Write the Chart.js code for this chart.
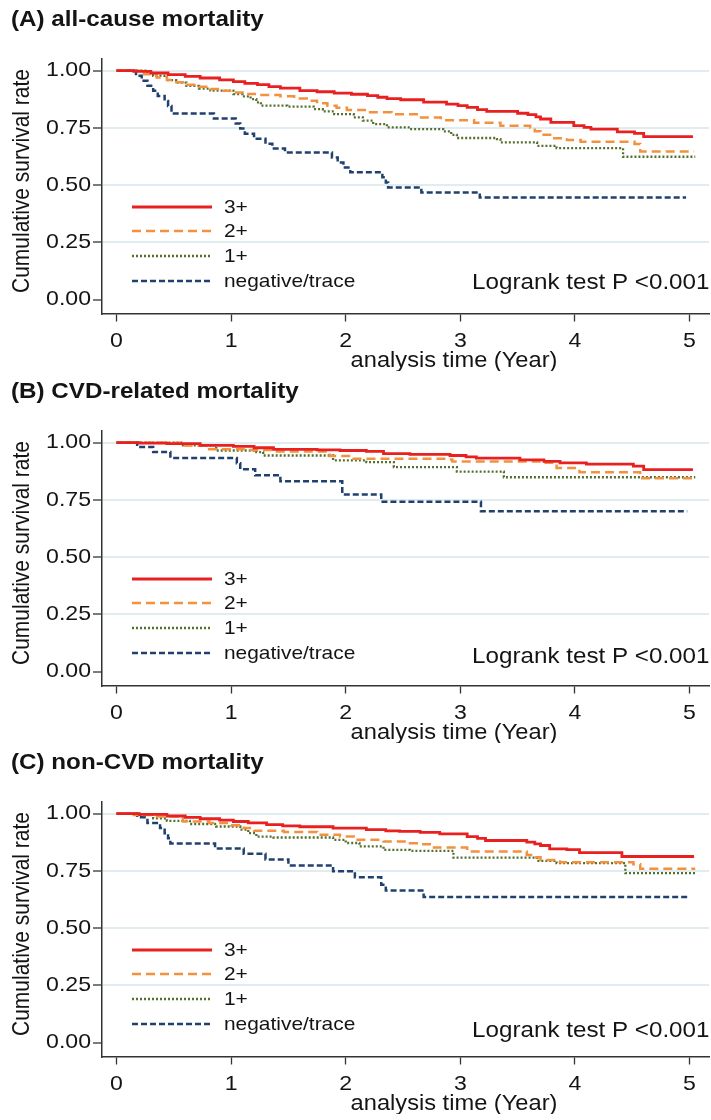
<!DOCTYPE html>
<html>
<head>
<meta charset="utf-8">
<script src="https://cdn.jsdelivr.net/npm/chart.js@4.4.1/dist/chart.umd.min.js"></script>
<style>
  body { margin: 0; background: #fff; width: 711px; height: 1120px; overflow: hidden; position: relative; }
  .panel { position: absolute; left: 0; width: 711px; height: 371px; }
</style>
</head>
<body>
<div class="panel" style="top:0px"><canvas id="chartA" width="711" height="371"></canvas></div>
<div class="panel" style="top:372px"><canvas id="chartB" width="711" height="371"></canvas></div>
<div class="panel" style="top:743px"><canvas id="chartC" width="711" height="371"></canvas></div>
<script>
// groups and axis labels
const groups = ["3+", "2+", "1+", "negative/trace"];
const xTicks = [0, 1, 2, 3, 4, 5];
const yTicks = [0, 0.25, 0.5, 0.75, 1];
const panelTitles = ["(A) all-cause mortality", "(B) CVD-related mortality", "(C) non-CVD mortality"];
const xTitle = "analysis time (Year)";
const yTitle = "Cumulative survival rate";
const logrankText = "Logrank test P <0.001";

// Kaplan-Meier steps: [time (years), survival]
const allCause3 = [[0,1],[0.15,0.997],[0.3,0.99],[0.45,0.983],[0.6,0.975],[0.73,0.968],[0.9,0.96],[1.02,0.952],[1.12,0.945],[1.23,0.939],[1.33,0.93],[1.43,0.924],[1.6,0.913],[1.75,0.908],[1.9,0.902],[2.05,0.897],[2.19,0.891],[2.28,0.884],[2.36,0.878],[2.48,0.873],[2.68,0.863],[2.88,0.854],[2.98,0.847],[3.06,0.84],[3.15,0.83],[3.23,0.822],[3.5,0.814],[3.59,0.808],[3.66,0.798],[3.7,0.789],[3.79,0.774],[3.99,0.76],[4.08,0.752],[4.14,0.745],[4.37,0.733],[4.52,0.726],[4.6,0.712],[5.03,0.712]];
const allCause2 = [[0,1],[0.15,1],[0.2,0.992],[0.24,0.985],[0.35,0.97],[0.44,0.959],[0.52,0.95],[0.61,0.939],[0.72,0.93],[0.82,0.92],[0.92,0.912],[1.02,0.905],[1.12,0.898],[1.23,0.894],[1.43,0.888],[1.55,0.878],[1.66,0.869],[1.75,0.858],[1.84,0.847],[1.92,0.838],[2.01,0.828],[2.19,0.818],[2.4,0.81],[2.62,0.796],[2.83,0.784],[3.12,0.773],[3.35,0.76],[3.61,0.752],[3.65,0.735],[3.7,0.72],[3.8,0.705],[3.93,0.697],[4.05,0.69],[4.52,0.68],[4.57,0.647],[5.04,0.647]];
const allCause1 = [[0,1],[0.2,1],[0.25,0.99],[0.32,0.978],[0.44,0.959],[0.52,0.948],[0.61,0.934],[0.72,0.922],[0.82,0.913],[1.02,0.898],[1.1,0.888],[1.17,0.876],[1.22,0.862],[1.26,0.847],[1.49,0.843],[1.72,0.832],[1.8,0.822],[1.9,0.81],[2.07,0.796],[2.15,0.782],[2.24,0.767],[2.36,0.752],[2.56,0.745],[2.85,0.735],[2.92,0.72],[2.97,0.706],[3.32,0.701],[3.35,0.687],[3.64,0.687],[3.67,0.672],[3.84,0.662],[4.41,0.662],[4.42,0.624],[5.05,0.624]];
const allCauseNeg = [[0,1],[0.17,0.978],[0.22,0.956],[0.27,0.934],[0.32,0.912],[0.36,0.89],[0.42,0.868],[0.45,0.846],[0.48,0.813],[0.85,0.791],[1.04,0.769],[1.08,0.747],[1.12,0.725],[1.2,0.703],[1.3,0.681],[1.36,0.66],[1.47,0.643],[1.88,0.621],[1.93,0.599],[1.98,0.577],[2.04,0.556],[2.32,0.534],[2.35,0.512],[2.37,0.49],[2.66,0.468],[3.17,0.446],[4.97,0.446]];

const cvd3 = [[0,1],[0.2,0.998],[0.44,0.996],[0.73,0.988],[1.02,0.984],[1.2,0.978],[1.37,0.971],[1.75,0.969],[1.95,0.966],[2.18,0.962],[2.33,0.952],[2.56,0.949],[2.91,0.944],[3.05,0.938],[3.14,0.933],[3.52,0.925],[3.73,0.918],[3.87,0.912],[4.1,0.906],[4.51,0.898],[4.6,0.882],[5.03,0.882]];
const cvd2 = [[0,1],[0.3,1],[0.58,0.988],[0.79,0.971],[1.14,0.968],[1.4,0.962],[1.86,0.942],[2.07,0.93],[2.9,0.927],[2.93,0.918],[3.6,0.918],[3.72,0.912],[3.84,0.889],[4.04,0.871],[4.52,0.871],[4.57,0.845],[5.04,0.845]];
const cvd1 = [[0,1],[0.42,1],[0.58,0.988],[0.87,0.966],[1.22,0.959],[1.28,0.944],[1.71,0.944],[1.89,0.923],[2.18,0.915],[2.42,0.893],[2.97,0.874],[3.38,0.849],[5.05,0.849]];
const cvdNeg = [[0,1],[0.18,0.981],[0.32,0.959],[0.47,0.933],[1.05,0.91],[1.08,0.884],[1.21,0.858],[1.43,0.832],[1.97,0.774],[2.31,0.742],[3.18,0.70],[4.98,0.70]];

const nonCvd3 = [[0,1],[0.2,0.997],[0.44,0.99],[0.6,0.984],[0.73,0.978],[0.9,0.972],[1.02,0.966],[1.15,0.96],[1.31,0.952],[1.45,0.947],[1.6,0.943],[1.89,0.937],[2.18,0.93],[2.35,0.925],[2.47,0.923],[2.65,0.918],[2.82,0.912],[3.06,0.9],[3.15,0.892],[3.22,0.883],[3.58,0.876],[3.65,0.868],[3.7,0.861],[3.78,0.846],[3.93,0.843],[4.04,0.83],[4.41,0.813],[5.04,0.813]];
const nonCvd2 = [[0,1],[0.15,0.994],[0.3,0.988],[0.58,0.966],[0.81,0.959],[1.0,0.95],[1.11,0.937],[1.2,0.925],[1.46,0.92],[1.75,0.908],[1.95,0.9],[2.07,0.886],[2.33,0.879],[2.56,0.871],[2.65,0.867],[2.77,0.852],[3.06,0.835],[3.58,0.82],[3.66,0.81],[3.7,0.798],[3.87,0.788],[4.51,0.779],[4.57,0.759],[5.05,0.759]];
const nonCvd1 = [[0,1],[0.2,0.995],[0.32,0.98],[0.44,0.969],[0.64,0.955],[0.87,0.944],[1.08,0.93],[1.15,0.915],[1.22,0.9],[1.37,0.896],[1.89,0.886],[2.0,0.872],[2.12,0.857],[2.33,0.842],[2.56,0.838],[2.9,0.838],[2.94,0.808],[3.58,0.808],[3.67,0.794],[3.84,0.784],[4.39,0.784],[4.44,0.74],[5.06,0.74]];
const nonCvdNeg = [[0,1],[0.18,0.984],[0.27,0.959],[0.38,0.937],[0.42,0.915],[0.45,0.893],[0.47,0.87],[0.86,0.848],[1.11,0.825],[1.3,0.8],[1.5,0.774],[1.89,0.749],[2.08,0.722],[2.31,0.69],[2.35,0.664],[2.68,0.636],[4.98,0.636]];

// styles
const lineColors = ["#e8201f", "#f4913f", "#55702e", "#20406e"];
const lineWidths = [2.8, 2.5, 2.3, 2.5];
const lineDashes = [[], [9, 5], [2, 2], [6, 3]];
const textColor = "#141414";
const axisColor = "#333333";
const gridColor = "#e1ecf1";
const STRETCH = 1.1;
const SANS = '"Liberation Sans", Arial, sans-serif';

const panels = [
  { id: "chartA", title: panelTitles[0], series: [allCause3, allCause2, allCause1, allCauseNeg], logrankY: 283 },
  { id: "chartB", title: panelTitles[1], series: [cvd3, cvd2, cvd1, cvdNeg], logrankY: 285 },
  { id: "chartC", title: panelTitles[2], series: [nonCvd3, nonCvd2, nonCvd1, nonCvdNeg], logrankY: 288 },
];

function stretchedText(ctx, text, x, y, font, align) {
  ctx.save();
  ctx.font = font;
  ctx.fillStyle = textColor;
  ctx.textAlign = align;
  ctx.textBaseline = "middle";
  ctx.translate(x, y);
  ctx.scale(STRETCH, 1);
  ctx.fillText(text, 0, 0);
  ctx.restore();
}

// tick labels, titles, in-plot legend and test result
function decorPlugin(panel) {
  return {
    id: "decor",
    afterDraw(chart) {
      const ctx = chart.ctx;
      const xs = chart.scales.x;
      const ys = chart.scales.y;
      const tickFont = "21px " + SANS;

      yTicks.forEach((v) => {
        stretchedText(ctx, v.toFixed(2), 91, ys.getPixelForValue(v), tickFont, "right");
      });
      xTicks.forEach((v) => {
        stretchedText(ctx, String(v), xs.getPixelForValue(v), 341, tickFont, "center");
      });

      stretchedText(ctx, panel.title, 11, 19.5, "bold 22px " + SANS, "left");
      stretchedText(ctx, xTitle, 454, 361.5, "21.5px " + SANS, "center");
      stretchedText(ctx, logrankText, 709.5, panel.logrankY, "22px " + SANS, "right");

      ctx.save();
      ctx.translate(22.5, 181);
      ctx.scale(STRETCH, 1);
      ctx.rotate(-Math.PI / 2);
      ctx.font = "21px " + SANS;
      ctx.fillStyle = textColor;
      ctx.textAlign = "center";
      ctx.textBaseline = "middle";
      ctx.fillText(yTitle, 0, 0);
      ctx.restore();

      const rows = [207, 231, 256, 281];
      groups.forEach((g, i) => {
        ctx.save();
        ctx.strokeStyle = lineColors[i];
        ctx.lineWidth = i === 0 ? 3 : 2.5;
        ctx.setLineDash(lineDashes[i]);
        ctx.beginPath();
        ctx.moveTo(132, rows[i]);
        ctx.lineTo(212, rows[i]);
        ctx.stroke();
        ctx.restore();
        stretchedText(ctx, g, 224, rows[i] + 1, "19px " + SANS, "left");
      });
    }
  };
}

function buildChart(panel) {
  const config = {
    type: "line",
    data: {
      datasets: panel.series.map((pts, i) => ({
        label: groups[i],
        data: pts.map(([t, s]) => ({ x: t, y: s })),
        borderColor: lineColors[i],
        borderWidth: lineWidths[i],
        borderDash: lineDashes[i],
        stepped: true,
        pointRadius: 0,
        fill: false,
      })),
    },
    options: {
      responsive: false,
      animation: false,
      layout: { padding: { top: 59, right: 2, left: 0, bottom: 0 } },
      plugins: {
        legend: { display: false },
        title: { display: false },
        tooltip: { enabled: false },
      },
      scales: {
        x: {
          type: "linear",
          min: -0.1265,
          max: 5.17,
          afterBuildTicks: (s) => { s.ticks = xTicks.map((v) => ({ value: v })); },
          afterFit: (s) => { s.height = 57.5; },
          grid: { drawOnChartArea: false, tickLength: 8, tickColor: axisColor, tickWidth: 1.3 },
          border: { color: axisColor, width: 1.5 },
          ticks: { display: false },
        },
        y: {
          type: "linear",
          min: -0.0607,
          max: 1.0511,
          afterBuildTicks: (s) => { s.ticks = yTicks.map((v) => ({ value: v })); },
          afterFit: (s) => { s.width = 102; },
          grid: {
            color: (c) => (c.tick && c.tick.value === 0 ? "rgba(0,0,0,0)" : gridColor),
            lineWidth: 2,
            tickLength: 9,
            tickColor: axisColor,
            tickWidth: 1.3,
          },
          border: { color: axisColor, width: 1.5 },
          ticks: { display: false },
        },
      },
    },
    plugins: [decorPlugin(panel)],
  };
  return new Chart(document.getElementById(panel.id), config);
}

panels.forEach(buildChart);
</script>
</body>
</html>
